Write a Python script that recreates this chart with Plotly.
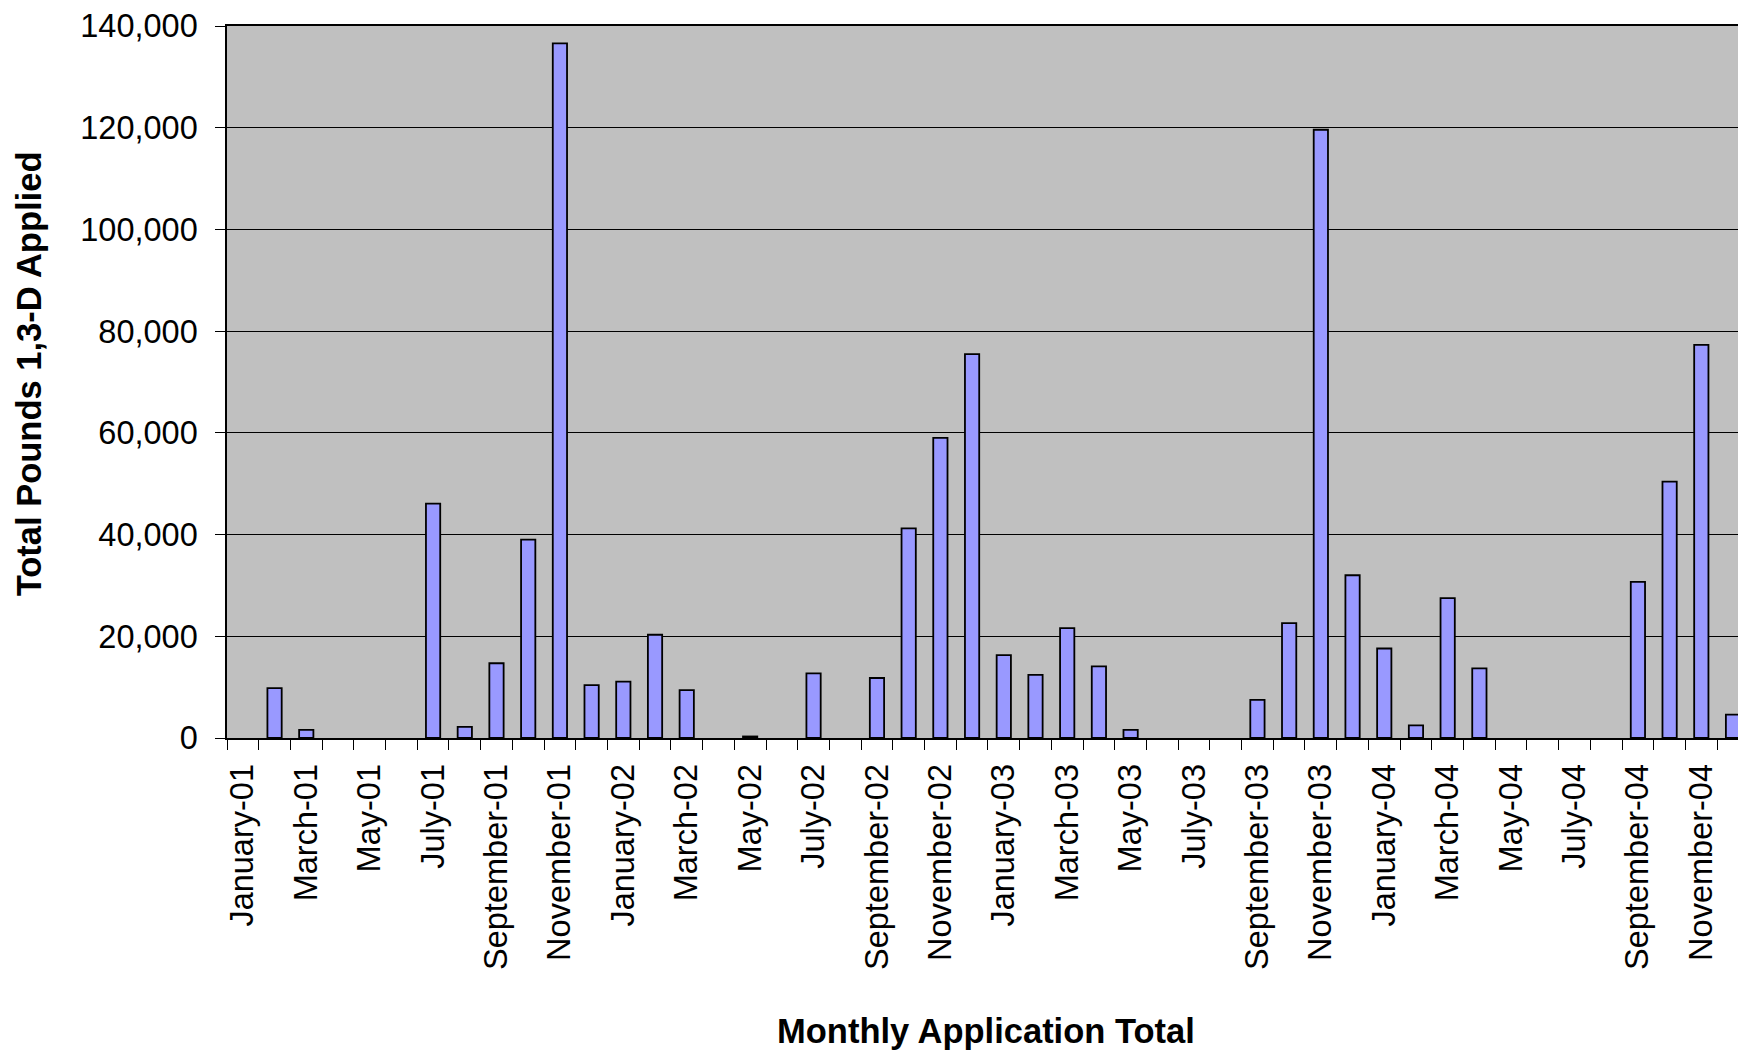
import plotly.graph_objects as go

# Monthly totals of 1,3-D applied (pounds), 2001-2004
month_names = ["January", "February", "March", "April", "May", "June",
               "July", "August", "September", "October", "November", "December"]
year_suffixes = ["01", "02", "03", "04"]

pounds_2001 = [0, 9800, 1600, 0, 0, 0, 46100, 2200, 14700, 39000, 136600, 10400]
pounds_2002 = [11100, 20300, 9400, 0, 300, 0, 12700, 0, 11800, 41200, 59000, 75500]
pounds_2003 = [16300, 12400, 21600, 14100, 1600, 0, 0, 0, 7500, 22600, 119600, 32000]
pounds_2004 = [17600, 2500, 27500, 13700, 0, 0, 0, 0, 30700, 50400, 77300, 4600]

y_ticks = [0, 20000, 40000, 60000, 80000, 100000, 120000, 140000]

categories = [f"{m}-{y}" for y in year_suffixes for m in month_names]
values = pounds_2001 + pounds_2002 + pounds_2003 + pounds_2004
# every other month is labelled
tick_labels = [c if i % 2 == 0 else "" for i, c in enumerate(categories)]
# months with nothing applied get no outline, so no stub sits on the axis
outline_widths = [1.8 if v > 0 else 0 for v in values]

FONT = "Liberation Sans, Arial, sans-serif"
TICK_SIZE = 32.5

fig = go.Figure(
    go.Bar(
        x=categories,
        y=values,
        marker=dict(color="#9999FF", line=dict(color="black", width=outline_widths)),
        hovertemplate="%{x}: %{y:,}<extra></extra>",
    )
)

fig.update_layout(
    width=1738,
    height=1051,
    autosize=False,
    margin=dict(l=227, r=0, t=26, b=313),
    paper_bgcolor="white",
    plot_bgcolor="#C0C0C0",
    bargap=0.55,
    showlegend=False,
    font=dict(family=FONT, size=TICK_SIZE, color="black"),
)

fig.update_xaxes(
    type="category",
    range=[-0.5, 47.157],
    tickmode="array",
    tickvals=categories,
    ticktext=tick_labels,
    tickangle=-90,
    tickson="boundaries",
    ticks="outside",
    ticklen=10,
    tickwidth=1.2,
    tickcolor="black",
    ticklabelstandoff=11,
    showgrid=False,
    showline=True,
    linecolor="black",
    linewidth=2,
    mirror=True,
    tickfont=dict(family=FONT, size=TICK_SIZE, color="black"),
)

fig.update_yaxes(
    range=[0, 140000],
    tickmode="array",
    tickvals=y_ticks,
    tickformat=",d",
    ticks="outside",
    ticklen=10,
    tickwidth=1.2,
    tickcolor="black",
    ticklabelstandoff=11,
    showgrid=True,
    gridcolor="black",
    gridwidth=1,
    zeroline=False,
    showline=True,
    linecolor="black",
    linewidth=1.5,
    tickfont=dict(family=FONT, size=TICK_SIZE, color="black"),
)

fig.add_annotation(
    text="<b>Monthly Application Total</b>",
    xref="paper", yref="paper",
    x=0.5023, y=-0.4115,
    xanchor="center", yanchor="middle",
    showarrow=False,
    font=dict(family=FONT, size=34.5, color="black"),
)
fig.add_annotation(
    text="<b>Total Pounds 1,3-D Applied</b>",
    xref="paper", yref="paper",
    x=-0.131, y=0.511,
    xanchor="center", yanchor="middle",
    textangle=-90,
    showarrow=False,
    font=dict(family=FONT, size=34.5, color="black"),
)

fig.write_html("out.html")
